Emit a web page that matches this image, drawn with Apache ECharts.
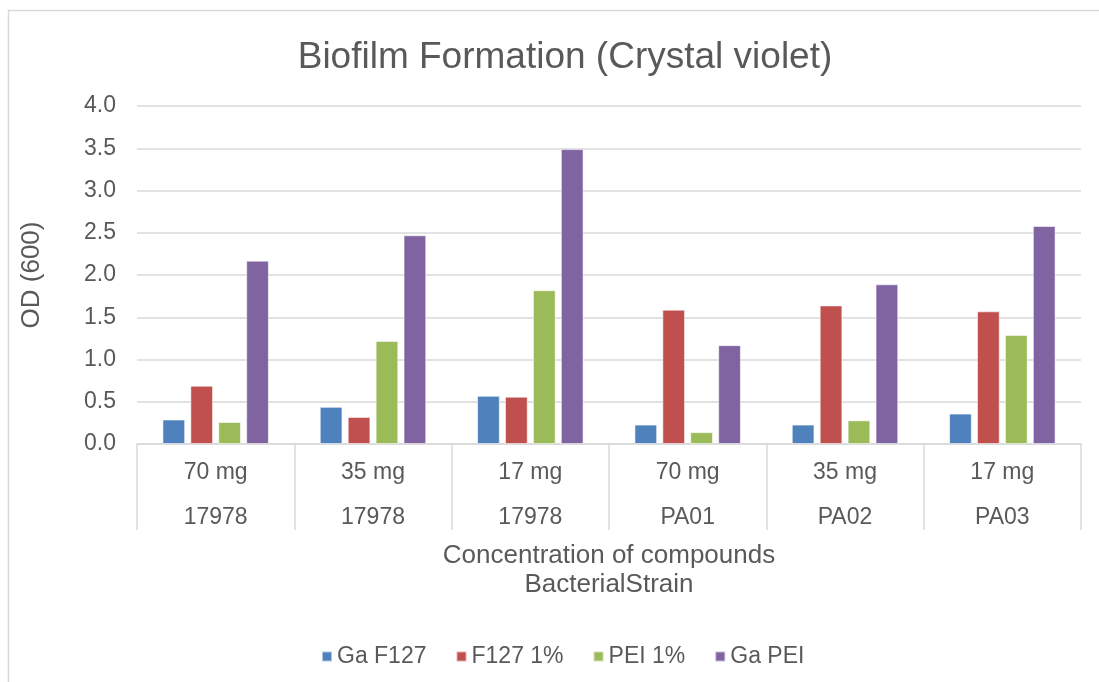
<!DOCTYPE html>
<html>
<head>
<meta charset="utf-8">
<title>Biofilm Formation (Crystal violet)</title>
<script src="https://cdn.jsdelivr.net/npm/echarts@6/dist/echarts.min.js"></script>
<style>
  html, body { margin: 0; padding: 0; background: #ffffff; }
  #chart { width: 1099px; height: 682px; }
</style>
</head>
<body>
<div id="chart"></div>
<script>
// Concentrations and bacterial strains (two-level category labels)
const concentrations = ['70 mg', '35 mg', '17 mg', '70 mg', '35 mg', '17 mg'];
const strains = ['17978', '17978', '17978', 'PA01', 'PA02', 'PA03'];

// OD (600) readings per compound
const gaF127 = [0.29, 0.44, 0.57, 0.23, 0.23, 0.36];
const f127 = [0.69, 0.32, 0.56, 1.59, 1.64, 1.57];
const pei = [0.26, 1.22, 1.82, 0.14, 0.28, 1.29];
const gaPei = [2.17, 2.47, 3.49, 1.17, 1.89, 2.58];

const seriesNames = ['Ga F127', 'F127 1%', 'PEI 1%', 'Ga PEI'];
const seriesColors = ['#4f81bd', '#c0504d', '#9bbb59', '#8064a2'];
const seriesData = [gaF127, f127, pei, gaPei];

const yTicks = [0, 0.5, 1, 1.5, 2, 2.5, 3, 3.5, 4];

const FONT = "'Liberation Sans', Arial, sans-serif";
const TEXT = '#595959';
const GRID_LINE = '#d9d9d9';

const categories = concentrations.map((c, i) => c + '\n' + strains[i]);

const chart = echarts.init(document.getElementById('chart'), null, { renderer: 'canvas' });

chart.setOption({
  backgroundColor: '#ffffff',
  animation: false,
  textStyle: { fontFamily: FONT },
  title: {
    text: 'Biofilm Formation (Crystal violet)',
    left: 560,
    top: 34,
    textAlign: 'center',
    textStyle: { fontFamily: FONT, fontSize: 37, fontWeight: 'normal', color: TEXT }
  },
  legend: {
    data: seriesNames,
    left: 316,
    top: 640,
    itemWidth: 10,
    itemHeight: 10,
    itemGap: 29,
    icon: 'rect',
    textStyle: { fontFamily: FONT, fontSize: 23, color: TEXT }
  },
  grid: { left: 137, right: 18, top: 106, bottom: 238, containLabel: false },
  xAxis: {
    type: 'category',
    data: categories,
    name: 'Concentration of compounds\nBacterialStrain',
    nameLocation: 'middle',
    nameGap: 92,
    nameTextStyle: { fontFamily: FONT, fontSize: 26, color: TEXT, lineHeight: 29, verticalAlign: 'top' },
    axisLine: { show: true, lineStyle: { color: GRID_LINE, width: 1.5 } },
    axisTick: { show: true, length: 86, lineStyle: { color: GRID_LINE, width: 1.5 } },
    axisLabel: {
      fontFamily: FONT, fontSize: 23, color: TEXT,
      lineHeight: 45, margin: 6, interval: 0
    }
  },
  yAxis: {
    type: 'value',
    min: yTicks[0],
    max: yTicks[yTicks.length - 1],
    interval: yTicks[1] - yTicks[0],
    name: 'OD (600)',
    nameLocation: 'middle',
    nameGap: 92,
    nameTextStyle: { fontFamily: FONT, fontSize: 26, color: TEXT },
    axisLine: { show: false },
    axisTick: { show: false },
    axisLabel: {
      fontFamily: FONT, fontSize: 23, color: TEXT, margin: 21,
      formatter: v => v.toFixed(1)
    },
    splitLine: { show: true, lineStyle: { color: GRID_LINE, width: 1.5 } }
  },
  series: seriesNames.map((name, i) => ({
    name: name,
    type: 'bar',
    data: seriesData[i],
    barWidth: 22.7,
    barGap: '23%',
    itemStyle: {
      color: seriesColors[i],
      borderColor: 'rgba(255,255,255,0.55)',
      borderWidth: 1
    }
  })),
  graphic: [
    {
      // chart-area frame (top and left edges)
      type: 'polyline',
      silent: true,
      shape: { points: [[8.5, 682], [8.5, 10.5], [1099, 10.5]] },
      style: { stroke: GRID_LINE, lineWidth: 1.5, fill: null }
    }
  ]
});
</script>
</body>
</html>
